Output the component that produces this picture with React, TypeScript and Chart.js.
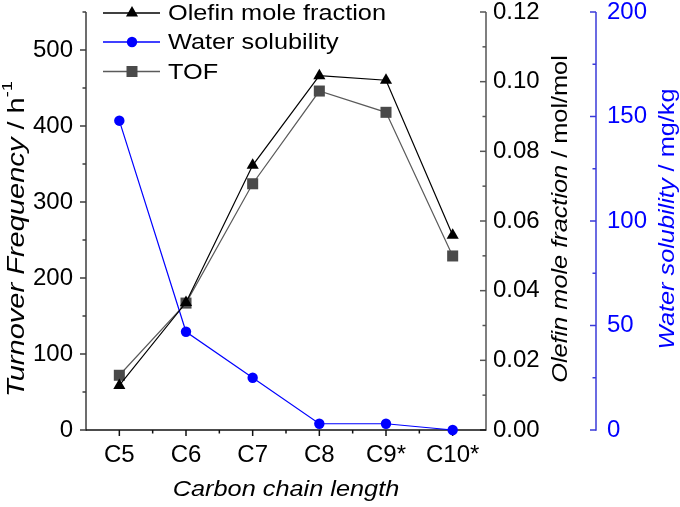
import React, { useEffect, useRef } from 'react';
import { Chart, registerables } from 'chart.js';
Chart.register(...registerables);

const FONT = '"Liberation Sans", Arial, sans-serif';

const categories = ['C5', 'C6', 'C7', 'C8', 'C9*', 'C10*'];
const olefinFraction = [0.0128, 0.0366, 0.076, 0.1017, 0.1004, 0.0559];
const waterSolubility = [148, 47, 25, 3, 3, 0];
const tofValues = [72, 167, 324, 446, 418, 229];

const tofAxis = { min: 0, max: 550, step: 100, minor: 50 };
const olefinAxis = { min: 0, max: 0.12, step: 0.02, minor: 0.01 };
const waterAxis = { min: 0, max: 200, step: 50, minor: 25 };

const legendItems = [
  { label: 'Olefin mole fraction', color: '#000000', line: '#000000', shape: 'triangle' },
  { label: 'Water solubility', color: '#0000ff', line: '#0000ff', shape: 'circle' },
  { label: 'TOF', color: '#4a4a4a', line: '#5a5a5a', shape: 'rect' },
];

const STRETCH = 1.15;

type Part = { text: string; font: string; dy?: number; w?: number };

function drawRich(
  ctx: CanvasRenderingContext2D,
  parts: Part[],
  cx: number,
  cy: number,
  rot: number,
  color: string,
  align: 'center' | 'left' = 'center',
  stretch: number = STRETCH
) {
  ctx.save();
  ctx.translate(cx, cy);
  ctx.rotate(rot);
  ctx.scale(stretch, 1);
  let total = 0;
  parts.forEach((p) => {
    ctx.font = p.font;
    p.w = ctx.measureText(p.text).width;
    total += p.w;
  });
  let x = align === 'center' ? -total / 2 : 0;
  ctx.textBaseline = 'middle';
  ctx.textAlign = 'left';
  ctx.fillStyle = color;
  parts.forEach((p) => {
    ctx.font = p.font;
    ctx.fillText(p.text, x, p.dy || 0);
    x += p.w || 0;
  });
  ctx.restore();
}

function drawMarker(ctx: CanvasRenderingContext2D, shape: string, x: number, y: number, color: string) {
  ctx.save();
  ctx.fillStyle = color;
  ctx.beginPath();
  if (shape === 'triangle') {
    const r = 7;
    ctx.moveTo(x, y - r);
    ctx.lineTo(x + Math.sin((2 * Math.PI) / 3) * r, y + r / 2);
    ctx.lineTo(x - Math.sin((2 * Math.PI) / 3) * r, y + r / 2);
    ctx.closePath();
  } else if (shape === 'circle') {
    ctx.arc(x, y, 5.2, 0, Math.PI * 2);
  } else {
    const s = 5.5;
    ctx.rect(x - s, y - s, 2 * s, 2 * s);
  }
  ctx.fill();
  ctx.restore();
}

const zeroPad = (s: any) => {
  s.paddingTop = 0;
  s.paddingBottom = 0;
};

const customPlugin = {
  id: 'customAxes',
  beforeDatasetsDraw(chart: any) {
    const ctx: CanvasRenderingContext2D = chart.ctx;
    const { left, right, top, bottom } = chart.chartArea;
    const xs = chart.scales.x;
    const yL = chart.scales.y;
    const yO = chart.scales.yO;
    const yW = chart.scales.yW;
    ctx.save();
    ctx.lineCap = 'butt';

    // left axis
    ctx.strokeStyle = '#3c3c3c';
    ctx.lineWidth = 1.5;
    ctx.beginPath();
    ctx.moveTo(left, top);
    ctx.lineTo(left, bottom + 0.75);
    ctx.stroke();
    for (let v = tofAxis.min; v <= tofAxis.max + 1e-9; v += tofAxis.minor) {
      const isMajor = Math.abs(v / tofAxis.step - Math.round(v / tofAxis.step)) < 1e-6;
      const len = isMajor ? 6 : 3.5;
      const py = yL.getPixelForValue(v);
      ctx.beginPath();
      ctx.moveTo(left - len, py);
      ctx.lineTo(left, py);
      ctx.stroke();
    }

    // olefin axis
    const xO = yO.left;
    ctx.strokeStyle = '#555555';
    ctx.beginPath();
    ctx.moveTo(xO, top);
    ctx.lineTo(xO, bottom + 0.75);
    ctx.stroke();
    for (let i = 0; i <= Math.round((olefinAxis.max - olefinAxis.min) / olefinAxis.minor); i++) {
      const v = olefinAxis.min + i * olefinAxis.minor;
      const len = i % 2 === 0 ? 6 : 3.5;
      const py = yO.getPixelForValue(v);
      ctx.beginPath();
      ctx.moveTo(xO - len, py);
      ctx.lineTo(xO, py);
      ctx.stroke();
    }

    // water axis
    const xW = yW.left;
    ctx.strokeStyle = '#3a3ad8';
    ctx.beginPath();
    ctx.moveTo(xW, top);
    ctx.lineTo(xW, bottom + 0.75);
    ctx.stroke();
    for (let v = waterAxis.min; v <= waterAxis.max + 1e-9; v += waterAxis.minor) {
      const isMajor = v % waterAxis.step === 0;
      const len = isMajor ? 6 : 3.5;
      const py = yW.getPixelForValue(v);
      ctx.beginPath();
      ctx.moveTo(xW - len, py);
      ctx.lineTo(xW, py);
      ctx.stroke();
    }

    // x axis
    ctx.strokeStyle = '#111111';
    ctx.beginPath();
    ctx.moveTo(left, bottom);
    ctx.lineTo(right, bottom);
    ctx.stroke();
    for (let i = 0; i < categories.length; i++) {
      const px = xs.getPixelForValue(i);
      ctx.beginPath();
      ctx.moveTo(px, bottom);
      ctx.lineTo(px, bottom + 6);
      ctx.stroke();
      const mx = xs.getPixelForValue(i + 0.5);
      if (i < categories.length - 1) {
        ctx.beginPath();
        ctx.moveTo(mx, bottom);
        ctx.lineTo(mx, bottom + 3.5);
        ctx.stroke();
      }
    }
    ctx.restore();
  },
  afterDraw(chart: any) {
    const ctx: CanvasRenderingContext2D = chart.ctx;
    const { left, right } = chart.chartArea;
    const yO = chart.scales.yO;
    const yW = chart.scales.yW;

    // legend
    const rowY = [13, 42, 71.5];
    legendItems.forEach((it, i) => {
      const y = rowY[i];
      ctx.save();
      ctx.strokeStyle = it.line;
      ctx.lineWidth = 1.3;
      ctx.beginPath();
      ctx.moveTo(left + 17, y);
      ctx.lineTo(left + 74, y);
      ctx.stroke();
      ctx.restore();
      drawMarker(ctx, it.shape, left + 46, y, it.color);
      drawRich(ctx, [{ text: it.label, font: `22px ${FONT}` }], left + 82, y + 1, 0, '#000000', 'left');
    });

    // axis titles
    drawRich(
      ctx,
      [
        { text: 'Turnover Frequency', font: `italic 24px ${FONT}` },
        { text: ' / h', font: `24px ${FONT}` },
        { text: '-1', font: `15px ${FONT}`, dy: -9 },
      ],
      17,
      239,
      -Math.PI / 2,
      '#000000',
      'center',
      1.21
    );
    drawRich(
      ctx,
      [
        { text: 'Olefin mole fraction', font: `italic 22px ${FONT}` },
        { text: ' / mol/mol', font: `22px ${FONT}` },
      ],
      yO.left + 75,
      219,
      -Math.PI / 2,
      '#000000'
    );
    drawRich(
      ctx,
      [
        { text: 'Water solubility', font: `italic 22px ${FONT}` },
        { text: ' / mg/kg', font: `22px ${FONT}` },
      ],
      yW.left + 72,
      219,
      -Math.PI / 2,
      '#0000ff'
    );
    drawRich(ctx, [{ text: 'Carbon chain length', font: `italic 22px ${FONT}` }], (left + right) / 2, 490, 0, '#000000');
  },
};

export default function App() {
  const ref = useRef<HTMLCanvasElement | null>(null);
  useEffect(() => {
    if (!ref.current) return;
    const tickFont = { family: FONT, size: 24 };
    const chart = new Chart(ref.current, {
      type: 'line',
      data: {
        labels: categories,
        datasets: [
          {
            label: 'Olefin mole fraction',
            data: olefinFraction,
            yAxisID: 'yO',
            borderColor: '#000000',
            backgroundColor: '#000000',
            pointBackgroundColor: '#000000',
            pointBorderColor: '#000000',
            pointStyle: 'triangle',
            pointRadius: 7,
            pointBorderWidth: 0,
            borderWidth: 1.2,
            tension: 0,
            clip: false as any,
          },
          {
            label: 'Water solubility',
            data: waterSolubility,
            yAxisID: 'yW',
            borderColor: '#0000ff',
            backgroundColor: '#0000ff',
            pointBackgroundColor: '#0000ff',
            pointBorderColor: '#0000ff',
            pointStyle: 'circle',
            pointRadius: 5.2,
            pointBorderWidth: 0,
            borderWidth: 1.2,
            tension: 0,
            clip: false as any,
          },
          {
            label: 'TOF',
            data: tofValues,
            yAxisID: 'y',
            borderColor: '#5a5a5a',
            backgroundColor: '#4a4a4a',
            pointBackgroundColor: '#4a4a4a',
            pointBorderColor: '#4a4a4a',
            pointStyle: 'rect',
            pointRadius: 7.8,
            pointBorderWidth: 0,
            borderWidth: 1.2,
            tension: 0,
            clip: false as any,
          },
        ],
      },
      options: {
        responsive: false,
        animation: false,
        events: [],
        layout: { padding: { top: 12, left: 0, right: 0, bottom: 0 } },
        plugins: { legend: { display: false }, tooltip: { enabled: false } },
        scales: {
          x: {
            type: 'category',
            offset: true,
            grid: { display: false, drawTicks: false },
            border: { display: false },
            ticks: { font: tickFont, color: '#000000', padding: 11, maxRotation: 0, autoSkip: false },
            afterFit: (s: any) => {
              s.height = 77;
              s.paddingLeft = 0;
              s.paddingRight = 0;
            },
          },
          y: {
            position: 'left',
            min: tofAxis.min,
            max: tofAxis.max,
            grid: { display: false, drawTicks: false },
            border: { display: false },
            ticks: { stepSize: tofAxis.step, includeBounds: false, font: tickFont, color: '#000000', padding: 13 },
            afterFit: (s: any) => {
              s.width = 86;
              zeroPad(s);
            },
          },
          yO: {
            position: 'right',
            weight: 0,
            min: olefinAxis.min,
            max: olefinAxis.max,
            grid: { display: false, drawTicks: false },
            border: { display: false },
            ticks: {
              stepSize: olefinAxis.step,
              includeBounds: false,
              font: tickFont,
              color: '#000000',
              padding: 7,
              callback: (v: any) => Number(v).toFixed(2),
            },
            afterFit: (s: any) => {
              s.width = 110;
              zeroPad(s);
            },
          },
          yW: {
            position: 'right',
            weight: 1,
            min: waterAxis.min,
            max: waterAxis.max,
            grid: { display: false, drawTicks: false },
            border: { display: false },
            ticks: { stepSize: waterAxis.step, includeBounds: false, font: tickFont, color: '#0000ff', padding: 11 },
            afterFit: (s: any) => {
              s.width = 84;
              zeroPad(s);
            },
          },
        },
      },
      plugins: [customPlugin],
    });
    return () => chart.destroy();
  }, []);
  return (
    <div style={{ position: 'absolute', left: 0, top: 0, width: 680, height: 507, background: '#ffffff' }}>
      <canvas ref={ref} width={680} height={507} style={{ width: 680, height: 507, display: 'block' }} />
    </div>
  );
}
